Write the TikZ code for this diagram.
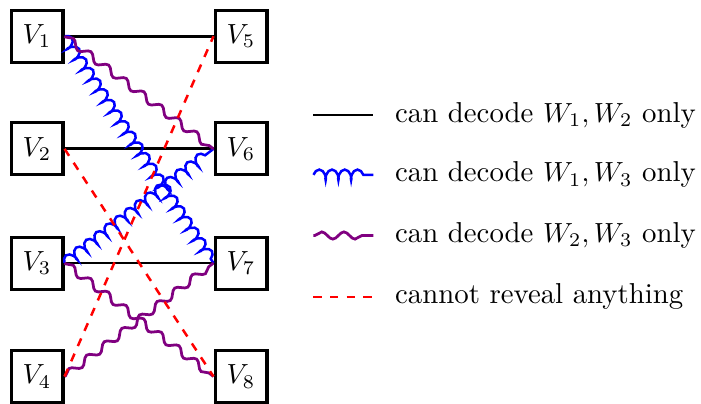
\documentclass[tikz,border=0pt]{standalone}
\usetikzlibrary{decorations.pathmorphing}

\begin{document}
\begin{tikzpicture}[
  x=1cm, y=1cm,
  every node/.style={inner sep=1pt, font=\fontsize{10.4}{12.5}\selectfont},
  vbox/.style={draw, line width=1.1pt, minimum size=0.66cm, inner sep=0pt},
  both12/.style={draw, line width=1pt},
  both13/.style={draw=blue, line width=0.9pt,
    decorate, decoration={coil, aspect=0.5, amplitude=1.9pt,
      segment length=4.6pt, post length=1.5pt}},
  both23/.style={draw=violet, line width=1pt,
    decorate, decoration={snake, amplitude=1.3pt, segment length=8pt,
      pre length=0.5pt, post length=0.5pt}},
  noleak/.style={draw=red, line width=0.9pt, dashed},
  legtext/.style={anchor=west, inner sep=0pt}]

  \useasboundingbox (0,0) rectangle (8.90,5.12);

  % vertices
  \node[vbox] (v1) at (0.47,4.66) {$V_1$};
  \node[vbox] (v2) at (0.47,3.23) {$V_2$};
  \node[vbox] (v3) at (0.47,1.78) {$V_3$};
  \node[vbox] (v4) at (0.47,0.34) {$V_4$};
  \node[vbox] (v5) at (3.06,4.66) {$V_5$};
  \node[vbox] (v6) at (3.06,3.23) {$V_6$};
  \node[vbox] (v7) at (3.06,1.78) {$V_7$};
  \node[vbox] (v8) at (3.06,0.34) {$V_8$};

  % edges
  \draw[both12] (v1.east) -- (v5.west);
  \draw[both12] (v2.east) -- (v6.west);
  \draw[both12] (v3.east) -- (v7.west);
  \draw[both13] (v1.east) -- (v7.west);
  \draw[both13] (v3.east) -- (v6.west);
  \draw[both23] (v1.east) -- (v6.west);
  \draw[both23] (v3.east) -- (v8.west);
  \draw[both23] (v4.east) -- (v7.west);
  \draw[noleak] (v4.east) -- (v5.west);
  \draw[noleak] (v2.east) -- (v8.west);

  % legend
  \coordinate (la) at (3.98,3.66); \coordinate (lb) at (4.74,3.66);
  \coordinate (lc) at (3.98,2.90); \coordinate (ld) at (4.74,2.90);
  \coordinate (le) at (3.98,2.13); \coordinate (lf) at (4.74,2.13);
  \coordinate (lg) at (3.98,1.35); \coordinate (lh) at (4.74,1.35);
  \draw[both12] (la) -- (lb);
  \draw[both13] (lc) -- (ld);
  \draw[both23] (le) -- (lf);
  \draw[noleak] (lg) -- (lh);
  \node[legtext] (t1) at (5.01,3.66) {can decode $W_1, W_2$ only};
  \node[legtext] (t2) at (5.01,2.90) {can decode $W_1, W_3$ only};
  \node[legtext] (t3) at (5.01,2.13) {can decode $W_2, W_3$ only};
  \node[legtext] (t4) at (5.01,1.35) {cannot reveal anything};
\end{tikzpicture}
\end{document}
